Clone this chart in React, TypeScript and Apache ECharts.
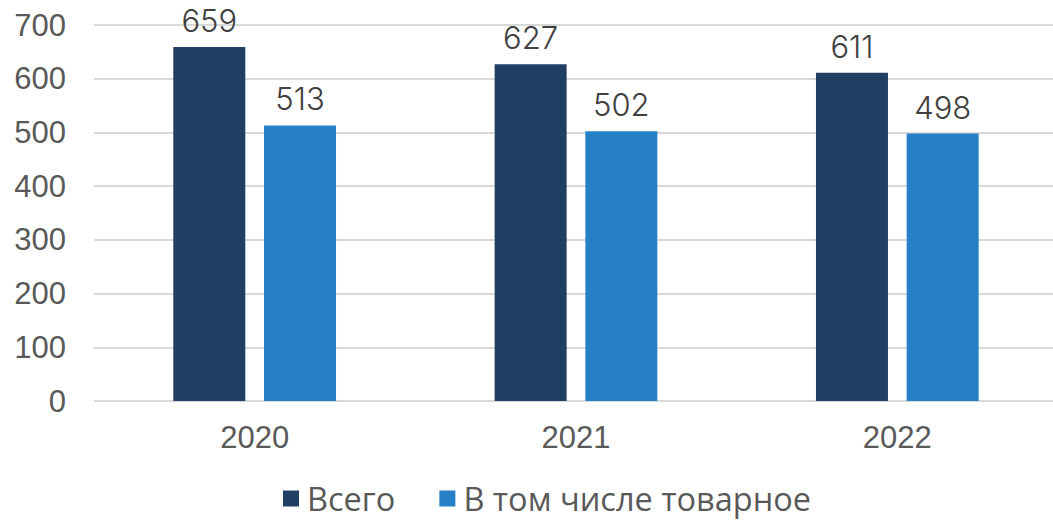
import React, { useEffect, useRef } from "react";
import * as echarts from "echarts";

const categories = ["2020", "2021", "2022"];
const totalValues = [659, 627, 611];
const commodityValues = [513, 502, 498];
const seriesNames = ["Всего", "В том числе товарное"];
const yTicks = { min: 0, max: 700, interval: 100 };

export default function App() {
  const ref = useRef<HTMLDivElement>(null);
  useEffect(() => {
    if (!ref.current) return;
    const chart = echarts.init(ref.current, null, { renderer: "svg" });
    const labelStyle = {
      show: true,
      position: "top" as const,
      distance: 11,
      fontFamily: "Inter",
      fontWeight: 300,
      fontSize: 31,
      color: "#404040",
    };
    chart.setOption({
      animation: false,
      backgroundColor: "#ffffff",
      grid: { left: 94, right: 0, top: 25, bottom: 120, containLabel: false },
      legend: {
        left: 283,
        top: 482,
        padding: 0,
        itemWidth: 16,
        itemHeight: 16,
        itemGap: 44,
        icon: "rect",
        textStyle: {
          fontFamily: "Open Sans",
          fontSize: 32.5,
          color: "#595959",
          padding: [0, 0, 0, 3],
        },
        data: seriesNames,
      },
      xAxis: {
        type: "category",
        data: categories,
        axisLine: { show: false },
        axisTick: { show: false },
        axisLabel: {
          fontFamily: "Liberation Sans",
          fontSize: 31,
          color: "#595959",
          margin: 21,
        },
      },
      yAxis: {
        type: "value",
        min: yTicks.min,
        max: yTicks.max,
        interval: yTicks.interval,
        axisLine: { show: false },
        axisTick: { show: false },
        splitLine: { lineStyle: { color: "#d9d9d9", width: 2 } },
        axisLabel: {
          fontFamily: "Liberation Sans",
          fontSize: 31,
          color: "#595959",
          margin: 28,
        },
      },
      series: [
        {
          name: seriesNames[0],
          type: "bar",
          data: totalValues,
          barWidth: 72,
          barGap: "26%",
          itemStyle: { color: "#213f62" },
          label: labelStyle,
        },
        {
          name: seriesNames[1],
          type: "bar",
          data: commodityValues,
          barWidth: 72,
          itemStyle: { color: "#2580c6" },
          label: labelStyle,
        },
      ],
    });
    return () => chart.dispose();
  }, []);
  return (
    <div style={{ position: "fixed", left: 0, top: 0, width: 1053, height: 521, overflow: "hidden" }}>
      <div ref={ref} style={{ width: 1058, height: 521 }} />
    </div>
  );
}
